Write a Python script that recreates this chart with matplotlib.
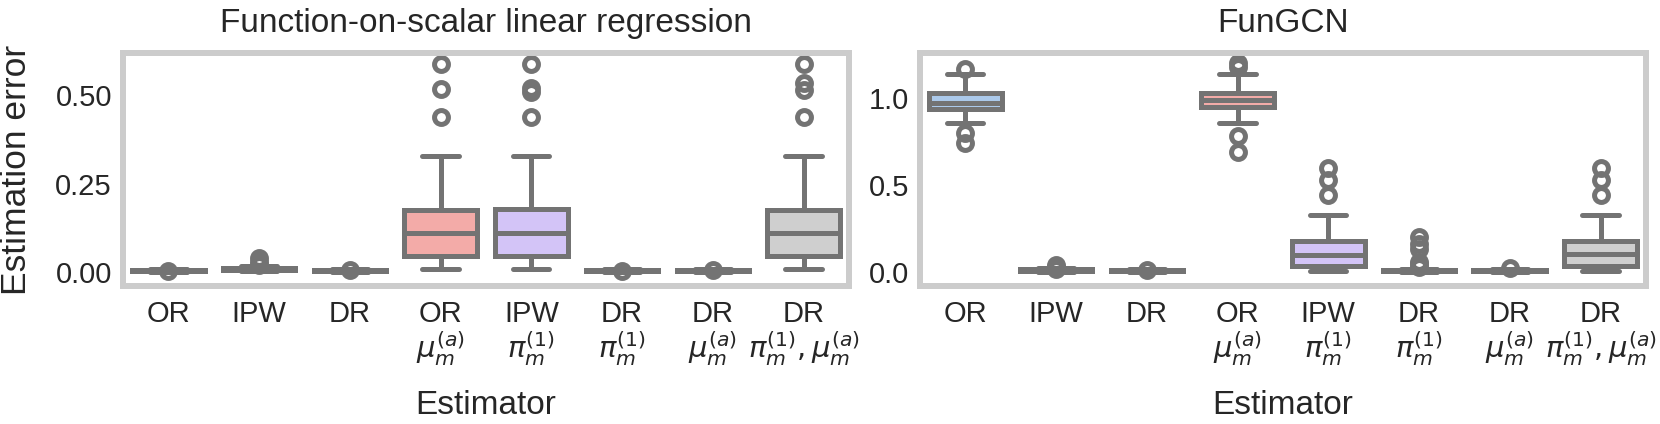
import matplotlib
matplotlib.use("Agg")
import matplotlib.pyplot as plt
import seaborn as sns

sns.set_style("whitegrid")
plt.rcParams['font.family'] = ['Liberation Sans', 'DejaVu Sans']
plt.rcParams['mathtext.fontset'] = 'dejavusans'

# estimator labels
labels = ["OR", "IPW", "DR", "OR\n$\\mu_m^{(a)}$", "IPW\n$\\pi_m^{(1)}$",
          "DR\n$\\pi_m^{(1)}$", "DR\n$\\mu_m^{(a)}$", "DR\n$\\pi_m^{(1)},\\mu_m^{(a)}$"]

# Function-on-scalar linear regression (box summaries)
lin_q1 = [0.003, 0.006, 0.003, 0.045, 0.045, 0.003, 0.003, 0.045]
lin_med = [0.005, 0.009, 0.005, 0.11, 0.11, 0.005, 0.005, 0.11]
lin_q3 = [0.007, 0.012, 0.007, 0.177, 0.18, 0.007, 0.007, 0.177]
lin_lo = [0.001, 0.002, 0.001, 0.01, 0.01, 0.001, 0.001, 0.01]
lin_hi = [0.010, 0.018, 0.010, 0.33, 0.33, 0.010, 0.010, 0.33]
lin_fliers = [[0.004], [0.02, 0.03, 0.04], [0.006], [0.44, 0.517, 0.59],
              [0.44, 0.51, 0.52, 0.59], [0.004], [0.005], [0.44, 0.514, 0.534, 0.59]]

# FunGCN
gcn_q1 = [0.94, 0.008, 0.004, 0.95, 0.035, 0.004, 0.005, 0.035]
gcn_med = [0.975, 0.012, 0.007, 0.99, 0.10, 0.008, 0.009, 0.105]
gcn_q3 = [1.03, 0.016, 0.010, 1.03, 0.18, 0.012, 0.013, 0.18]
gcn_lo = [0.86, 0.002, 0.001, 0.86, 0.005, 0.001, 0.002, 0.005]
gcn_hi = [1.137, 0.024, 0.016, 1.137, 0.33, 0.02, 0.02, 0.33]
gcn_fliers = [[0.74, 0.80, 1.17], [0.02, 0.03, 0.04], [0.01], [0.69, 0.78, 1.18, 1.2],
              [0.445, 0.53, 0.60], [0.03, 0.045, 0.06, 0.13, 0.16, 0.2], [0.025],
              [0.445, 0.53, 0.60]]

pal = [sns.desaturate(c, 0.75) for c in sns.color_palette("pastel", 8)]
gray = "#737373"
txt = "#262626"
lw = 3.6

fig = plt.figure(figsize=(16.6, 4.24), dpi=100)
ax1 = fig.add_axes([0.0741, 0.3255, 0.4373, 0.5495])
ax2 = fig.add_axes([0.5542, 0.3255, 0.4373, 0.5495])


def draw(ax, q1, med, q3, lo, hi, fliers, title, ylim, yticks, fmt):
    stats = []
    for i in range(len(labels)):
        stats.append(dict(q1=q1[i], med=med[i], q3=q3[i], whislo=lo[i],
                          whishi=hi[i], fliers=fliers[i]))
    bp = ax.bxp(stats, positions=range(len(labels)), widths=0.8,
                patch_artist=True, showcaps=True, capwidths=0.4,
                boxprops=dict(edgecolor=gray, linewidth=lw),
                medianprops=dict(color=gray, linewidth=lw),
                whiskerprops=dict(color=gray, linewidth=lw),
                capprops=dict(color=gray, linewidth=lw, solid_capstyle='round'),
                flierprops=dict(marker='o', markersize=10, markerfacecolor='none',
                                markeredgecolor=gray, markeredgewidth=lw))
    for patch, c in zip(bp['boxes'], pal):
        patch.set_facecolor(c)
    ax.set_xlim(-0.5, len(labels) - 0.5)
    ax.set_ylim(*ylim)
    ax.set_yticks(yticks)
    ax.set_yticklabels([fmt.format(v) for v in yticks])
    ax.set_xticks(range(len(labels)))
    ax.set_xticklabels(labels, linespacing=1.05)
    ax.grid(False)
    for s in ax.spines.values():
        s.set_color("#cccccc")
        s.set_linewidth(4.3)
    ax.tick_params(axis='both', labelsize=21, length=0, colors=txt)
    ax.tick_params(axis='x', pad=10)
    ax.tick_params(axis='y', pad=8)
    ax.set_title(title, fontsize=24, pad=15, color=txt)
    ax.set_xlabel("Estimator", fontsize=24, labelpad=16, color=txt)


draw(ax1, lin_q1, lin_med, lin_q3, lin_lo, lin_hi, lin_fliers,
     "Function-on-scalar linear regression", (-0.039, 0.62), [0.0, 0.25, 0.5], "{:.2f}")
draw(ax2, gcn_q1, gcn_med, gcn_q3, gcn_lo, gcn_hi, gcn_fliers,
     "FunGCN", (-0.08, 1.26), [0.0, 0.5, 1.0], "{:.1f}")
ax1.set_ylabel("Estimation error", fontsize=25.5, color=txt, labelpad=16)

fig.savefig("out.png", dpi=100)
